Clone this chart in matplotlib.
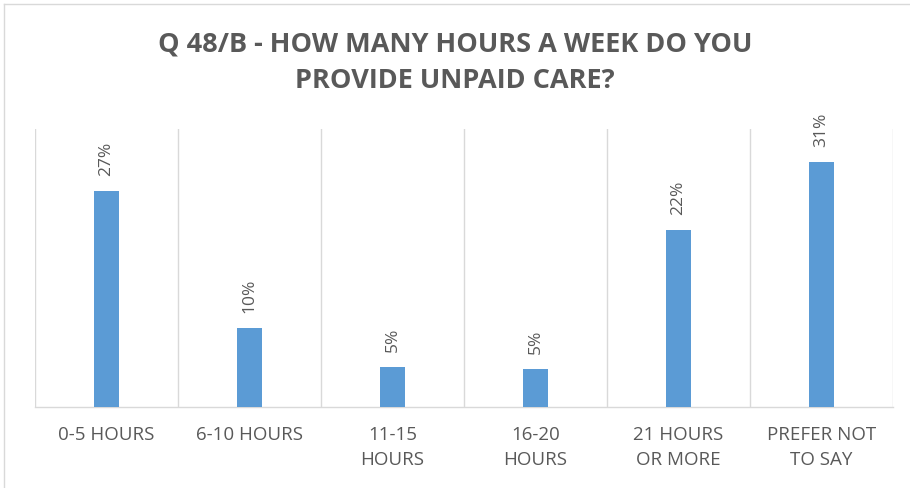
import matplotlib
matplotlib.use("Agg")
import matplotlib.pyplot as plt
from matplotlib.lines import Line2D

categories = ["0-5 HOURS", "6-10 HOURS", "11-15\nHOURS", "16-20\nHOURS", "21 HOURS\nOR MORE", "PREFER NOT\nTO SAY"]
values = [27.2, 9.9, 5.0, 4.8, 22.3, 30.8]
labels = ["27%", "10%", "5%", "5%", "22%", "31%"]
title = "Q 48/B - HOW MANY HOURS A WEEK DO YOU\nPROVIDE UNPAID CARE?"

TEXT = "#595959"
GRID = "#D9D9D9"
BAR = "#5B9BD5"

fig = plt.figure(figsize=(9.1, 4.88), dpi=100)
ax = fig.add_axes([35/910, 81/488, 858/910, 278/488])

x = list(range(len(categories)))
ax.bar(x, values, width=0.18, color=BAR, zorder=3)
ax.set_xlim(-0.5, len(categories) - 0.5)
ax.set_ylim(0, 35)

for xi, v, lab in zip(x, values, labels):
    ax.annotate(lab, (xi, v), xytext=(0, 11), textcoords="offset points",
                rotation=90, ha="center", va="bottom", color=TEXT,
                fontsize=12.5, family="Open Sans")

for b in [i - 0.5 for i in range(len(categories) + 1)]:
    ax.axvline(b, color=GRID, lw=1.0, zorder=1)

for s in ["top", "left", "right"]:
    ax.spines[s].set_visible(False)
ax.spines["bottom"].set_color(GRID)
ax.spines["bottom"].set_linewidth(1.0)
ax.set_yticks([])
ax.set_xticks(x)
ax.set_xticklabels(categories, family="Open Sans", fontsize=13.5, color=TEXT, linespacing=1.5)
ax.tick_params(axis="x", length=0, pad=14)

fig.text(0.5, 1 - 63/488, title, ha="center", va="center", fontsize=19.5,
         fontweight="bold", family="Open Sans", color=TEXT, linespacing=1.5)

fig.add_artist(Line2D([4/910, 4/910], [0, 1 - 4/488], transform=fig.transFigure, color=GRID, lw=1))
fig.add_artist(Line2D([4/910, 1], [1 - 4/488, 1 - 4/488], transform=fig.transFigure, color=GRID, lw=1))

fig.savefig("out.png", dpi=100)
